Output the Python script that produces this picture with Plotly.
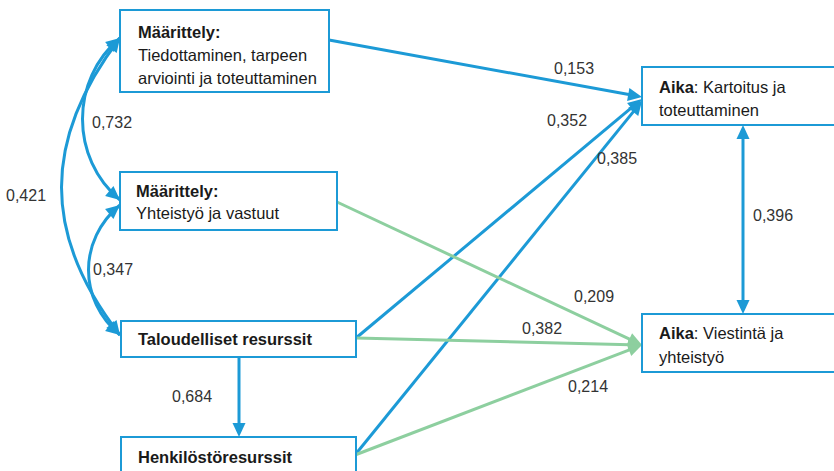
import math
import plotly.graph_objects as go

BLUE = "#1C9AD6"
GREEN = "#8DCF9F"
INK = "#1A1A1A"
LABEL = "#333333"
FONT = "Liberation Sans, Arial, sans-serif"

# nodes: title (bold part), rest of lines
node_ids = ["m1", "m2", "tal", "hen", "ak", "av"]
node_bold = ["Määrittely:", "Määrittely:", "Taloudelliset resurssit", "Henkilöstöresurssit", "Aika", "Aika"]
node_text = [
    ["Tiedottaminen, tarpeen", "arviointi ja toteuttaminen"],
    ["Yhteistyö ja vastuut"],
    [],
    [],
    [": Kartoitus ja", "toteuttaminen"],
    [": Viestintä ja", "yhteistyö"],
]

# regression paths (from, to, coefficient)
path_from = ["m1", "tal", "hen", "m2", "tal", "hen", "tal"]
path_to = ["ak", "ak", "ak", "av", "av", "av", "hen"]
path_coef = [0.153, 0.352, 0.385, 0.209, 0.382, 0.214, 0.684]

# correlations (double headed)
corr_a = ["m1", "m2", "m1", "ak"]
corr_b = ["m2", "tal", "tal", "av"]
corr_coef = [0.732, 0.347, 0.421, 0.396]

# layout of the diagram in pixel space (x0, y0, x1, y1)
BOX = {
    "m1": (120, 10, 329, 92),
    "m2": (120, 172, 337, 230),
    "tal": (121, 321, 356, 357),
    "hen": (121, 437, 356, 500),
    "ak": (642, 67, 860, 125),
    "av": (642, 314, 860, 372),
}
TEXT_POS = {
    "m1": (136, [32, 55, 78]),
    "m2": (134, [191, 213]),
    "tal": (136, [339]),
    "hen": (136, [457]),
    "ak": (657, [87, 110]),
    "av": (657, [333, 357]),
}
# anchor points of each path end
PATH_XY = [
    ((329, 40), (642, 97)),
    ((356, 338), (642, 99)),
    ((355, 455), (642, 101)),
    ((337, 202), (642, 345)),
    ((356, 338), (642, 345)),
    ((355, 455), (642, 345)),
    ((239, 357), (239, 437)),
]
PATH_LAB = [(574, 68), (567, 120), (617, 158), (594, 296), (542, 328), (588, 386), (192, 396)]
# cubic curves for the left-hand correlations: p0, c1, c2, p3
CORR_XY = [
    ((120, 38), (70, 80), (70, 158), (120, 200)),
    ((120, 205), (78, 240), (78, 300), (120, 335)),
    ((120, 38), (42, 140), (42, 235), (120, 335)),
    ((743, 125), None, None, (743, 314)),
]
CORR_LAB = [(112, 122), (113, 269), (26, 195), (773, 215)]

shapes, annos = [], []


def head(tip, frm, color, length=14, half=6.5):
    dx, dy = tip[0] - frm[0], tip[1] - frm[1]
    n = math.hypot(dx, dy)
    ux, uy = dx / n, dy / n
    bx, by = tip[0] - ux * length, tip[1] - uy * length
    px, py = -uy * half, ux * half
    shapes.append(dict(type="path", xref="x", yref="y", line=dict(width=0), fillcolor=color,
                       path=f"M{tip[0]},{tip[1]} L{bx + px},{by + py} L{bx - px},{by - py} Z"))
    return (tip[0] - ux * (length - 2), tip[1] - uy * (length - 2))


def lab(v):
    return f"{v:.3f}".replace(".", ",")


# regression arrows
for i, (a, b) in enumerate(PATH_XY):
    col = GREEN if path_to[i] == "av" else BLUE
    end = head(b, a, col)
    shapes.append(dict(type="line", xref="x", yref="y", x0=a[0], y0=a[1], x1=end[0], y1=end[1],
                       line=dict(color=col, width=3)))
    annos.append(dict(x=PATH_LAB[i][0], y=PATH_LAB[i][1], text=lab(path_coef[i]), showarrow=False,
                      font=dict(size=16, color=LABEL)))

# correlation arrows
for i, (p0, c1, c2, p3) in enumerate(CORR_XY):
    if c1 is None:
        s = head(p0, p3, BLUE)
        e = head(p3, p0, BLUE)
        shapes.append(dict(type="line", xref="x", yref="y", x0=s[0], y0=s[1], x1=e[0], y1=e[1],
                           line=dict(color=BLUE, width=3)))
    else:
        head(p0, c1, BLUE)
        head(p3, c2, BLUE)
        shapes.append(dict(type="path", xref="x", yref="y", line=dict(color=BLUE, width=3),
                           path=f"M{p0[0]},{p0[1]} C{c1[0]},{c1[1]} {c2[0]},{c2[1]} {p3[0]},{p3[1]}"))
    annos.append(dict(x=CORR_LAB[i][0], y=CORR_LAB[i][1], text=lab(corr_coef[i]), showarrow=False,
                      font=dict(size=16, color=LABEL)))

# boxes and their text
for k, nid in enumerate(node_ids):
    x0, y0, x1, y1 = BOX[nid]
    shapes.append(dict(type="rect", xref="x", yref="y", x0=x0, y0=y0, x1=x1, y1=y1,
                       fillcolor="white", line=dict(color=BLUE, width=2)))
    tx, ys = TEXT_POS[nid]
    rest = node_text[k]
    if nid in ("ak", "av"):
        lines = [f"<b>{node_bold[k]}</b>{rest[0]}"] + rest[1:]
    else:
        lines = [f"<b>{node_bold[k]}</b>"] + rest
    for t, yy in zip(lines, ys):
        annos.append(dict(x=tx, y=yy, text=t, showarrow=False, xanchor="left", yanchor="middle",
                          font=dict(size=16.5, color=INK)))

fig = go.Figure()
fig.update_layout(
    width=834, height=471,
    margin=dict(l=0, r=0, t=0, b=0),
    paper_bgcolor="white", plot_bgcolor="white",
    font=dict(family=FONT),
    xaxis=dict(range=[0, 834], visible=False, fixedrange=True),
    yaxis=dict(range=[471, 0], visible=False, fixedrange=True),
    shapes=shapes, annotations=annos, showlegend=False,
)
# page body has a default margin; drop it so the figure sits at the window corner
fig.write_html("out.html", config=dict(displayModeBar=False),
               post_script="document.body.style.margin='0';document.body.style.overflow='hidden';")
